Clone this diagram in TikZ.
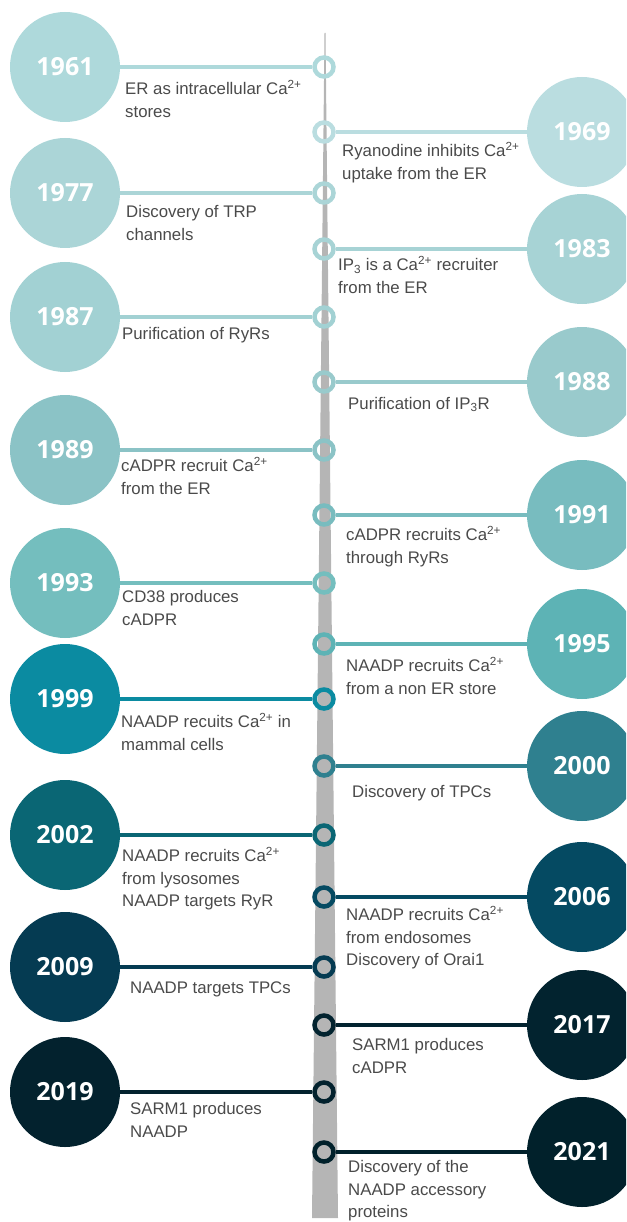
\documentclass[tikz,border=0pt]{standalone}
\usepackage{fontspec}
\setmainfont{Liberation Sans}
\newfontfamily\yearfont{Open Sans}
\newfontfamily\descfont{Liberation Sans}
\usepackage{tikz}
\usetikzlibrary{calc}

\definecolor{barGray}{HTML}{B5B5B5}
\definecolor{txtGray}{HTML}{4A4A4A}
\definecolor{c1961}{HTML}{AED9DB}
\definecolor{c1969}{HTML}{BADDE0}
\definecolor{c1977}{HTML}{ABD5D7}
\definecolor{c1983}{HTML}{A7D3D5}
\definecolor{c1987}{HTML}{A2D1D3}
\definecolor{c1988}{HTML}{99CACC}
\definecolor{c1989}{HTML}{8BC3C6}
\definecolor{c1991}{HTML}{78BCBF}
\definecolor{c1993}{HTML}{74BEBE}
\definecolor{c1995}{HTML}{5DB3B5}
\definecolor{c1999}{HTML}{0B8BA1}
\definecolor{c2000}{HTML}{2F808F}
\definecolor{c2002}{HTML}{0A6674}
\definecolor{c2006}{HTML}{054A62}
\definecolor{c2009}{HTML}{053B52}
\definecolor{c2017}{HTML}{02232F}
\definecolor{c2019}{HTML}{03222E}
\definecolor{c2021}{HTML}{01212B}

\newcommand{\caion}{Ca\textsuperscript{2+}}

\tikzset{
  yearbox/.style={circle, minimum size=110pt, inner sep=0pt, text=white,
    font=\yearfont\bfseries\fontsize{25}{25}\selectfont},
  dotring/.style={circle, draw, line width=4.5pt, minimum size=19pt, inner sep=0pt},
  linkline/.style={line width=4.5pt},
  % placed at the baseline of the first line
  descr/.style={anchor=north west, yshift=15.75pt, inner sep=0pt, align=left, text=txtGray,
    font=\descfont\fontsize{16.8}{22.5}\selectfont, execute at begin node=\strut}
}

\begin{document}
\begin{tikzpicture}[x=1pt,y=-1pt]
		\useasboundingbox (0,0) rectangle (626,1222);
		\clip (0,0) rectangle (626,1222);
		
		% time axis
		\fill[barGray] (324.5,33) -- (325.5,33) -- (338,1218) -- (312,1218) -- cycle;
		
		% left side
		\node[yearbox, fill=c1961]	(y1961)	at (65,67)	{1961};
		\node[dotring, draw=c1961]	(m1961)	at (324,67)	{};
		\draw[linkline, c1961] (y1961) -- (m1961);
		\node[descr]	(d1961)	at (125,96)	{ER as intracellular \caion\\stores};
		
		\node[yearbox, fill=c1977]	(y1977)	at (65,193)	{1977};
		\node[dotring, draw=c1977]	(m1977)	at (324,193)	{};
		\draw[linkline, c1977] (y1977) -- (m1977);
		\node[descr]	(d1977)	at (126,221)	{Discovery of TRP\\channels};
		
		\node[yearbox, fill=c1987]	(y1987)	at (65,317)	{1987};
		\node[dotring, draw=c1987]	(m1987)	at (324,317)	{};
		\draw[linkline, c1987] (y1987) -- (m1987);
		\node[descr]	(d1987)	at (122,339)	{Purification of RyRs};
		
		\node[yearbox, fill=c1989]	(y1989)	at (65,450)	{1989};
		\node[dotring, draw=c1989]	(m1989)	at (324,450)	{};
		\draw[linkline, c1989] (y1989) -- (m1989);
		\node[descr]	(d1989)	at (121,473)	{cADPR recruit \caion\\from the ER};
		
		\node[yearbox, fill=c1993]	(y1993)	at (65,583)	{1993};
		\node[dotring, draw=c1993]	(m1993)	at (324,583)	{};
		\draw[linkline, c1993] (y1993) -- (m1993);
		\node[descr]	(d1993)	at (122,606)	{CD38 produces\\cADPR};
		
		\node[yearbox, fill=c1999]	(y1999)	at (65,699)	{1999};
		\node[dotring, draw=c1999]	(m1999)	at (324,699)	{};
		\draw[linkline, c1999] (y1999) -- (m1999);
		\node[descr]	(d1999)	at (121,729)	{NAADP recuits \caion{} in\\mammal cells};
		
		\node[yearbox, fill=c2002]	(y2002)	at (65,835)	{2002};
		\node[dotring, draw=c2002]	(m2002)	at (324,835)	{};
		\draw[linkline, c2002] (y2002) -- (m2002);
		\node[descr]	(d2002)	at (122,863)	{NAADP recruits \caion\\from lysosomes\\NAADP targets RyR};
		
		\node[yearbox, fill=c2009]	(y2009)	at (65,967)	{2009};
		\node[dotring, draw=c2009]	(m2009)	at (324,967)	{};
		\draw[linkline, c2009] (y2009) -- (m2009);
		\node[descr]	(d2009)	at (130,993)	{NAADP targets TPCs};
		
		\node[yearbox, fill=c2019]	(y2019)	at (65,1092)	{2019};
		\node[dotring, draw=c2019]	(m2019)	at (324,1092)	{};
		\draw[linkline, c2019] (y2019) -- (m2019);
		\node[descr]	(d2019)	at (130,1118)	{SARM1 produces\\NAADP};
		
		% right side
		\node[yearbox, fill=c1969]	(y1969)	at (582,132)	{1969};
		\node[dotring, draw=c1969]	(m1969)	at (324,132)	{};
		\draw[linkline, c1969] (m1969) -- (y1969);
		\node[descr]	(d1969)	at (342,158)	{Ryanodine inhibits \caion\\uptake from the ER};
		
		\node[yearbox, fill=c1983]	(y1983)	at (582,249)	{1983};
		\node[dotring, draw=c1983]	(m1983)	at (324,249)	{};
		\draw[linkline, c1983] (m1983) -- (y1983);
		\node[descr]	(d1983)	at (338,272)	{IP\textsubscript{3} is a \caion{} recruiter\\from the ER};
		
		\node[yearbox, fill=c1988]	(y1988)	at (582,382)	{1988};
		\node[dotring, draw=c1988]	(m1988)	at (324,382)	{};
		\draw[linkline, c1988] (m1988) -- (y1988);
		\node[descr]	(d1988)	at (348,409)	{Purification of IP\textsubscript{3}R};
		
		\node[yearbox, fill=c1991]	(y1991)	at (582,515)	{1991};
		\node[dotring, draw=c1991]	(m1991)	at (324,515)	{};
		\draw[linkline, c1991] (m1991) -- (y1991);
		\node[descr]	(d1991)	at (346,542)	{cADPR recruits \caion\\through RyRs};
		
		\node[yearbox, fill=c1995]	(y1995)	at (582,644)	{1995};
		\node[dotring, draw=c1995]	(m1995)	at (324,644)	{};
		\draw[linkline, c1995] (m1995) -- (y1995);
		\node[descr]	(d1995)	at (346,673)	{NAADP recruits \caion\\from a non ER store};
		
		\node[yearbox, fill=c2000]	(y2000)	at (582,766)	{2000};
		\node[dotring, draw=c2000]	(m2000)	at (324,766)	{};
		\draw[linkline, c2000] (m2000) -- (y2000);
		\node[descr]	(d2000)	at (352,797)	{Discovery of TPCs};
		
		\node[yearbox, fill=c2006]	(y2006)	at (582,897)	{2006};
		\node[dotring, draw=c2006]	(m2006)	at (324,897)	{};
		\draw[linkline, c2006] (m2006) -- (y2006);
		\node[descr]	(d2006)	at (346,922)	{NAADP recruits \caion\\from endosomes\\Discovery of Orai1};
		
		\node[yearbox, fill=c2017]	(y2017)	at (582,1025)	{2017};
		\node[dotring, draw=c2017]	(m2017)	at (324,1025)	{};
		\draw[linkline, c2017] (m2017) -- (y2017);
		\node[descr]	(d2017)	at (352,1054)	{SARM1 produces\\cADPR};
		
		\node[yearbox, fill=c2021]	(y2021)	at (582,1152)	{2021};
		\node[dotring, draw=c2021]	(m2021)	at (324,1152)	{};
		\draw[linkline, c2021] (m2021) -- (y2021);
		\node[descr]	(d2021)	at (348,1176)	{Discovery of the\\NAADP accessory\\proteins};
	\end{tikzpicture}
\end{document}
